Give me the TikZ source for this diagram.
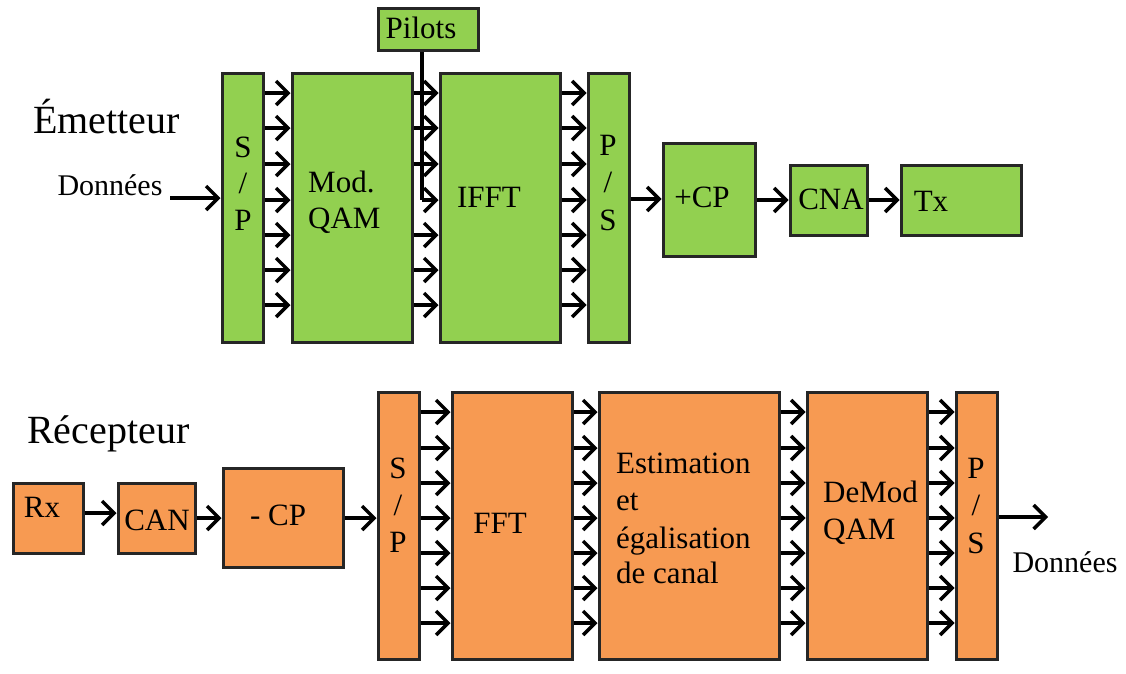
\documentclass[tikz,border=0pt]{standalone}
\usepackage{fontspec}
\setmainfont{Liberation Serif}
\usetikzlibrary{arrows.meta}
\definecolor{vert}{HTML}{92D050}
\definecolor{orng}{HTML}{F79A52}
\definecolor{bord}{HTML}{262626}
\begin{document}
\begin{tikzpicture}[x=1pt,y=-1pt,
 blk/.style={draw=bord,line width=3pt,inner sep=0pt},
 gbox/.style={blk,fill=vert},
 obox/.style={blk,fill=orng},
 lbl/.style={font=\fontsize{31}{36}\selectfont,inner sep=0pt,anchor=base},
 lblw/.style={lbl,anchor=base west},
 big/.style={font=\fontsize{40}{46}\selectfont,inner sep=0pt,anchor=base west},
 dat/.style={font=\fontsize{30}{34}\selectfont,inner sep=0pt,anchor=base},
 arr/.style={line width=3.4pt,-{Straight Barb[length=12pt,width=24pt,line width=3.4pt]}},
 ln/.style={line width=3.4pt}]
\useasboundingbox (0,0) rectangle (1126,673);

% ---------- rows ----------
\foreach \i/\y in {1/93,2/128,3/164,4/200,5/235,6/270,7/305}{\coordinate (t\i) at (0,\y);}
\foreach \i/\y in {1/412,2/448,3/483,4/518,5/553,6/588,7/623}{\coordinate (b\i) at (0,\y);}

% ---------- Emetteur ----------
\node[big] (emet) at (33,133) {Émetteur};
\node[gbox,minimum width=41pt,minimum height=269pt] (sp1) at (242.5,207.5) {};
\node[gbox,minimum width=120pt,minimum height=269pt] (mod) at (352,207.5) {};
\node[gbox,minimum width=120pt,minimum height=269pt] (ifft) at (500,207.5) {};
\node[gbox,minimum width=41pt,minimum height=269pt] (ps1) at (608.5,207.5) {};
\node[gbox,minimum width=100pt,minimum height=42pt] (pilots) at (428,29) {};
\node[gbox,minimum width=92pt,minimum height=113pt] (cp) at (709,199.5) {};
\node[gbox,minimum width=77pt,minimum height=70pt] (cna) at (828.5,200) {};
\node[gbox,minimum width=120pt,minimum height=70pt] (tx) at (961,200) {};

\node[lbl] (sp1s) at (243,157) {S};
\node[lbl] (sp1l) at (243,193) {/};
\node[lbl] (sp1p) at (243,230) {P};
\node[lblw] (modt1) at (308,192) {Mod.};
\node[lblw] (modt2) at (308,228) {QAM};
\node[lbl] (iffttxt) at (489,207) {IFFT};
\node[lbl] (ps1p) at (608,155) {P};
\node[lbl] (ps1l) at (608,192) {/};
\node[lbl] (ps1s) at (608,230) {S};
\node[lbl] (pilotstxt) at (421,38) {Pilots};
\node[lbl] (cptxt) at (702,207) {+CP};
\node[lbl] (cnatxt) at (831,209) {CNA};
\node[lbl] (txtxt) at (931,211) {Tx};
\node[dat] (don1) at (110,195) {Données};

\coordinate (din) at (170,198);
\draw[arr] (din) -- (sp1.west |- din);
\foreach \i in {1,...,7}{
  \draw[arr] (sp1.east |- t\i) -- (mod.west |- t\i);
  \draw[arr] (ifft.east |- t\i) -- (ps1.west |- t\i);
}
\foreach \i in {1,2,3,5,6,7}{
  \draw[arr] (mod.east |- t\i) -- (ifft.west |- t\i);
}
\coordinate (px) at (422,0);
\draw[ln] (pilots.south -| px) -- (px |- t4);
\draw[arr] (px |- t4) -- (ifft.west |- t4);
\coordinate (c1) at (0,199);
\coordinate (c2) at (0,200);
\draw[arr] (ps1.east |- c1) -- (cp.west |- c1);
\draw[arr] (cp.east |- c2) -- (cna.west |- c2);
\draw[arr] (cna.east |- c2) -- (tx.west |- c2);

% ---------- Recepteur ----------
\node[big] (recep) at (27,443) {Récepteur};
\node[obox,minimum width=70pt,minimum height=70pt] (rx) at (48,518) {};
\node[obox,minimum width=77pt,minimum height=70pt] (can) at (156.5,518) {};
\node[obox,minimum width=120pt,minimum height=99pt] (mcp) at (283,517.5) {};
\node[obox,minimum width=41pt,minimum height=267pt] (sp2) at (398.5,525.5) {};
\node[obox,minimum width=120pt,minimum height=267pt] (fft) at (512,525.5) {};
\node[obox,minimum width=180pt,minimum height=267pt] (est) at (689,525.5) {};
\node[obox,minimum width=120pt,minimum height=267pt] (demod) at (867,525.5) {};
\node[obox,minimum width=41pt,minimum height=267pt] (ps2) at (976.5,525.5) {};

\node[lbl] (rxtxt) at (42,517) {Rx};
\node[lbl] (cantxt) at (157,530) {CAN};
\node[lbl] (mcptxt) at (278,525) {- CP};
\node[lbl] (sp2s) at (398,478) {S};
\node[lbl] (sp2l) at (398,515) {/};
\node[lbl] (sp2p) at (398,552) {P};
\node[lbl] (ffttxt) at (500,533) {FFT};
\node[lblw] (est1) at (616,473) {Estimation};
\node[lblw] (est2) at (616,510) {et};
\node[lblw] (est3) at (616,548) {égalisation};
\node[lblw] (est4) at (616,583) {de canal};
\node[lblw] (dm1) at (823,502) {DeMod};
\node[lblw] (dm2) at (823,539) {QAM};
\node[lbl] (ps2p) at (976,478) {P};
\node[lbl] (ps2l) at (976,515) {/};
\node[lbl] (ps2s) at (976,553) {S};
\node[dat] (don2) at (1065,572) {Données};

\coordinate (r0) at (0,513);
\coordinate (r1) at (0,518);
\coordinate (dout) at (1048,517);
\draw[arr] (rx.east |- r0) -- (can.west |- r0);
\draw[arr] (can.east |- r1) -- (mcp.west |- r1);
\draw[arr] (mcp.east |- r1) -- (sp2.west |- r1);
\foreach \i in {1,...,7}{
  \draw[arr] (sp2.east |- b\i) -- (fft.west |- b\i);
  \draw[arr] (fft.east |- b\i) -- (est.west |- b\i);
  \draw[arr] (est.east |- b\i) -- (demod.west |- b\i);
  \draw[arr] (demod.east |- b\i) -- (ps2.west |- b\i);
}
\draw[arr] (ps2.east |- dout) -- (dout);
\end{tikzpicture}
\end{document}
